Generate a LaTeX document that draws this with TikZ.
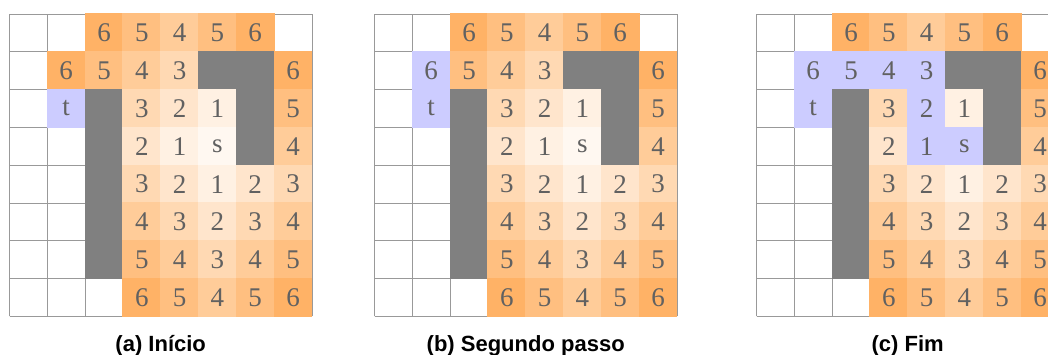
\documentclass[tikz,border=0pt]{standalone}
\usepackage{fontspec}
\setmainfont{Liberation Serif}
\newfontfamily\rotulo{Liberation Sans}
\usepackage{tikz}
\definecolor{d1}{HTML}{FFF1E3}
\definecolor{ds}{HTML}{FFF8F1}
\definecolor{d2}{HTML}{FFE5CC}
\definecolor{d3}{HTML}{FFD9B3}
\definecolor{d4}{HTML}{FFCC99}
\definecolor{d5}{HTML}{FFBF80}
\definecolor{d6}{HTML}{FFB266}
\definecolor{cam}{HTML}{CCCCFF}
\definecolor{muro}{HTML}{808080}
\newcommand{\lado}{37.8}
% uma grade 8x8: nome, deslocamento em x, linhas de celulas (cor/texto)
\newcommand{\mapa}[3]{%
  \begin{scope}[shift={(#2,38.6)}]
    \draw[linha] (0,0) grid (302.5,302.5);
    \foreach \linha [count=\r] in {#3}
      \foreach \st/\tx [count=\c] in \linha
        \node[cel,fill=\st] (#1-\r-\c) at ({(\c-0.5)*\lado},{(8.5-\r)*\lado}) {\tx};
  \end{scope}}

\begin{document}
\begin{tikzpicture}[
x=1pt,y=1pt,
cel/.style={minimum size=38.8pt,inner sep=0pt,outer sep=0pt,text=black!62,font=\fontsize{27}{27}\selectfont},
linha/.style={draw=black!40,line width=0.8pt,step=37.8pt},
legenda/.style={font=\rotulo\bfseries\fontsize{22}{22}\selectfont,anchor=base}
]
\useasboundingbox (0,0) rectangle (1048,355);
\mapa{a}{9.5}{%
 {none/{},none/{},d6/6,d5/5,d4/4,d5/5,d6/6,none/{}},
 {none/{},d6/6,d5/5,d4/4,d3/3,muro/{},muro/{},d6/6},
 {none/{},cam/t,muro/{},d3/3,d2/2,d1/1,muro/{},d5/5},
 {none/{},none/{},muro/{},d2/2,d1/1,ds/s,muro/{},d4/4},
 {none/{},none/{},muro/{},d3/3,d2/2,d1/1,d2/2,d3/3},
 {none/{},none/{},muro/{},d4/4,d3/3,d2/2,d3/3,d4/4},
 {none/{},none/{},muro/{},d5/5,d4/4,d3/3,d4/4,d5/5},
 {none/{},none/{},none/{},d6/6,d5/5,d4/4,d5/5,d6/6}}
\mapa{b}{374.5}{%
 {none/{},none/{},d6/6,d5/5,d4/4,d5/5,d6/6,none/{}},
 {none/{},cam/6,d5/5,d4/4,d3/3,muro/{},muro/{},d6/6},
 {none/{},cam/t,muro/{},d3/3,d2/2,d1/1,muro/{},d5/5},
 {none/{},none/{},muro/{},d2/2,d1/1,ds/s,muro/{},d4/4},
 {none/{},none/{},muro/{},d3/3,d2/2,d1/1,d2/2,d3/3},
 {none/{},none/{},muro/{},d4/4,d3/3,d2/2,d3/3,d4/4},
 {none/{},none/{},muro/{},d5/5,d4/4,d3/3,d4/4,d5/5},
 {none/{},none/{},none/{},d6/6,d5/5,d4/4,d5/5,d6/6}}
\mapa{c}{756.5}{%
 {none/{},none/{},d6/6,d5/5,d4/4,d5/5,d6/6,none/{}},
 {none/{},cam/6,cam/5,cam/4,cam/3,muro/{},muro/{},d6/6},
 {none/{},cam/t,muro/{},d3/3,cam/2,d1/1,muro/{},d5/5},
 {none/{},none/{},muro/{},d2/2,cam/1,cam/s,muro/{},d4/4},
 {none/{},none/{},muro/{},d3/3,d2/2,d1/1,d2/2,d3/3},
 {none/{},none/{},muro/{},d4/4,d3/3,d2/2,d3/3,d4/4},
 {none/{},none/{},muro/{},d5/5,d4/4,d3/3,d4/4,d5/5},
 {none/{},none/{},none/{},d6/6,d5/5,d4/4,d5/5,d6/6}}
\node[legenda] (leg-a) at (160.7,3.5) {(a) Início};
\node[legenda] (leg-b) at (525.7,3.5) {(b) Segundo passo};
\node[legenda] (leg-c) at (907.7,3.5) {(c) Fim};
\end{tikzpicture}
\end{document}
